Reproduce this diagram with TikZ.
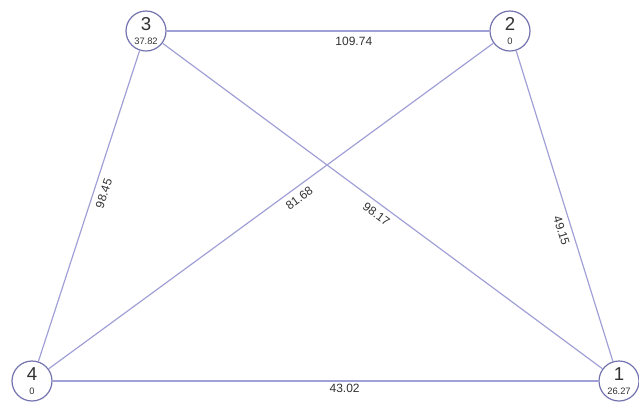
\documentclass[tikz,border=0pt]{standalone}
\usepackage{fontspec}
\setmainfont{Liberation Sans}
\usepackage{tikz}
\usetikzlibrary{calc}

\definecolor{edgeblue}{RGB}{160,160,215}
\definecolor{ringblue}{RGB}{115,115,175}
\definecolor{textgray}{RGB}{50,50,50}

\begin{document}
\begin{tikzpicture}[x=0.75pt, y=-0.75pt,
        vertex/.style={circle, draw=ringblue, line width=0.9pt, fill=white, minimum size=30pt, inner sep=0pt, align=center, text=textgray},
        link/.style={draw=edgeblue, line width=0.9pt},
        weight/.style={sloped, font=\fontsize{9}{9}\selectfont, text=textgray, inner sep=4pt}]
            \useasboundingbox (0,0) rectangle (639,405);

            % Vertices
            \node[vertex] (v3) at (146,31) {{\fontsize{14}{11}\selectfont 3}\\[-1pt]{\fontsize{7}{7}\selectfont 37.82}};
            \node[vertex] (v2) at (510,31) {{\fontsize{14}{11}\selectfont 2}\\[-1pt]{\fontsize{7}{7}\selectfont 0}};
            \node[vertex] (v4) at (32,381) {{\fontsize{14}{11}\selectfont 4}\\[-1pt]{\fontsize{7}{7}\selectfont 0}};
            \node[vertex] (v1) at (619,381) {{\fontsize{14}{11}\selectfont 1}\\[-1pt]{\fontsize{7}{7}\selectfont 26.27}};

            % Edges
            \path[link] (v3) -- node[weight, below, pos=0.58] {109.74} (v2);
            \path[link] (v4) -- node[weight, below, pos=0.535, inner sep=2pt] {43.02} (v1);
            \path[link] (v4) -- node[weight, below, pos=0.55] {98.45} (v3);
            \path[link] (v4) -- node[weight, below, pos=0.55] {81.68} (v2);
            \path[link] (v3) -- node[weight, below, pos=0.50] {98.17} (v1);
            \path[link] (v2) -- node[weight, below, pos=0.57] {49.15} (v1);
        \end{tikzpicture}
\end{document}
